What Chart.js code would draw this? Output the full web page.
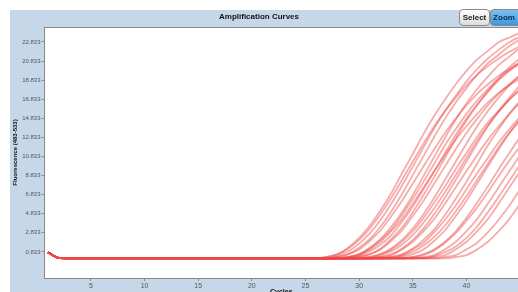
<!DOCTYPE html>
<html>
<head>
<meta charset="utf-8">
<script src="https://cdn.jsdelivr.net/npm/chart.js@4"></script>
<style>
  html, body { margin: 0; padding: 0; background: #fff; overflow: hidden; }
  #wrap { position: relative; width: 518px; height: 292px; overflow: hidden; }
  #chart { position: absolute; left: 0; top: 0; }
  .btn {
    position: absolute; top: 9px; height: 17px;
    font: bold 8px "Liberation Sans", Arial, sans-serif; line-height: 15px; text-align: center;
    border: 1px solid #8a8a8a; border-radius: 4px; box-sizing: border-box;
  }
  #selectBtn { left: 459px; width: 31px; background: linear-gradient(#ffffff, #dcdcdc); color: #222; }
  #zoomBtn { left: 490px; width: 34px; padding-right: 6px; background: linear-gradient(#7cc0f0, #3f98dc); color: #0b2b55; }
</style>
</head>
<body>
<div id="wrap">
  <canvas id="chart" width="518" height="296"></canvas>
  <div class="btn" id="selectBtn">Select</div>
  <div class="btn" id="zoomBtn">Zoom</div>
</div>
<script>
const cycles = [1,2,3,4,5,6,7,8,9,10,11,12,13,14,15,16,17,18,19,20,21,22,23,24,25,26,27,28,29,30,31,32,33,34,35,36,37,38,39,40,41,42,43,44,45];
const xTicks = [5,10,15,20,25,30,35,40];
const yTicks = [0.833,2.833,4.833,6.833,8.833,10.833,12.833,14.833,16.833,18.833,20.833,22.833];

// shared flat part, cycles 1-26
const baseline = [0.78,0.2,0.15,0.15,0.16,0.15,0.15,0.16,0.15,0.15,0.15,0.16,0.15,0.15,0.15,0.15,0.16,0.15,0.15,0.15,0.16,0.15,0.15,0.15,0.16,0.15];

// each well, cycles 27-45
const rises = [
  [0.3,0.6,1.3,2.3,3.6,5.2,7.0,9.1,11.1,13.2,15.1,16.8,18.4,19.8,21.0,21.9,22.8,23.3,23.8],
  [0.3,0.6,1.2,2.1,3.3,4.8,6.5,8.4,10.3,12.2,14.0,15.6,17.0,18.3,19.4,20.3,21.1,21.8,22.4],
  [0.2,0.45,0.9,1.7,2.8,4.2,5.9,7.8,9.8,11.8,13.8,15.6,17.2,18.7,20.0,21.1,22.0,22.8,23.4],
  [0.15,0.3,0.6,1.3,2.2,3.5,5.1,6.9,8.9,10.9,12.9,14.8,16.5,18.0,19.4,20.6,21.5,22.4,23.1],
  [0.15,0.3,0.6,1.1,2.0,3.1,4.6,6.2,8.0,9.8,11.6,13.3,14.8,16.2,17.4,18.4,19.3,20.0,20.7],
  [0.15,0.15,0.3,0.6,1.3,2.2,3.5,5.0,6.8,8.8,10.8,12.8,14.7,16.4,17.9,19.2,20.4,21.3,22.2],
  [0.15,0.15,0.3,0.6,1.2,2.1,3.2,4.7,6.4,8.2,10.1,12.0,13.7,15.3,16.7,17.9,19.0,19.9,20.7],
  [0.15,0.15,0.3,0.5,1.1,1.9,3.0,4.3,5.9,7.6,9.3,11.0,12.6,14.0,15.3,16.5,17.5,18.3,19.0],
  [0.15,0.2,0.2,0.45,0.9,1.6,2.6,4.0,5.6,7.4,9.3,11.2,13.1,14.8,16.3,17.6,18.8,19.8,20.6],
  [0.15,0.15,0.15,0.3,0.6,1.2,2.2,3.4,5.0,6.8,8.7,10.7,12.7,14.6,16.2,17.7,19.0,20.2,21.1],
  [0.15,0.15,0.15,0.3,0.6,1.1,2.0,3.1,4.6,6.2,8.0,9.8,11.6,13.3,14.8,16.2,17.4,18.4,19.3],
  [0.15,0.15,0.15,0.15,0.3,0.6,1.2,2.1,3.3,4.8,6.5,8.4,10.3,12.2,14.0,15.6,17.0,18.3,19.4],
  [0.15,0.15,0.15,0.15,0.3,0.6,1.1,1.9,3.0,4.4,6.0,7.7,9.5,11.2,12.9,14.4,15.6,16.8,17.8],
  [0.15,0.15,0.15,0.15,0.2,0.45,0.9,1.6,2.6,3.9,5.4,7.1,8.9,10.7,12.5,14.1,15.5,16.8,17.9],
  [0.15,0.15,0.15,0.15,0.15,0.3,0.6,1.2,2.1,3.3,4.8,6.5,8.4,10.3,12.2,14.0,15.6,17.0,18.3],
  [0.15,0.15,0.15,0.15,0.15,0.3,0.5,1.1,1.9,3.0,4.3,5.9,7.6,9.3,11.0,12.6,14.0,15.3,16.5],
  [0.15,0.15,0.15,0.15,0.15,0.15,0.3,0.6,1.2,2.1,3.2,4.7,6.4,8.2,10.1,12.0,13.7,15.3,16.7],
  [0.15,0.15,0.15,0.15,0.15,0.15,0.3,0.5,1.1,1.8,2.9,4.2,5.7,7.4,9.1,10.7,12.3,13.7,15.0],
  [0.15,0.15,0.15,0.15,0.15,0.15,0.2,0.45,0.85,1.5,2.4,3.6,5.1,6.7,8.4,10.1,11.8,13.3,14.6],
  [0.15,0.15,0.15,0.15,0.15,0.15,0.15,0.3,0.6,1.1,2.0,3.1,4.6,6.2,8.0,9.8,11.6,13.3,14.8],
  [0.15,0.15,0.15,0.15,0.15,0.15,0.15,0.15,0.3,0.6,1.1,1.9,3.0,4.4,6.0,7.7,9.5,11.2,12.9],
  [0.15,0.15,0.15,0.15,0.15,0.15,0.15,0.15,0.3,0.5,1.0,1.8,2.8,4.1,5.5,7.1,8.8,10.4,11.9],
  [0.15,0.15,0.15,0.15,0.15,0.15,0.15,0.15,0.15,0.3,0.5,1.1,1.9,3.0,4.3,5.9,7.6,9.3,11.0],
  [0.15,0.15,0.15,0.15,0.15,0.15,0.15,0.15,0.15,0.2,0.4,0.8,1.4,2.3,3.5,5.0,6.6,8.3,10.0],
  [0.15,0.15,0.15,0.15,0.15,0.15,0.15,0.15,0.15,0.15,0.3,0.5,1.1,1.9,3.0,4.3,5.9,7.6,9.3],
  [0.15,0.15,0.15,0.15,0.15,0.15,0.15,0.15,0.15,0.15,0.15,0.3,0.5,1.1,1.8,2.9,4.2,5.7,7.4],
  [0.15,0.15,0.15,0.15,0.15,0.15,0.15,0.15,0.15,0.15,0.15,0.15,0.3,0.5,1.1,1.9,3.0,4.3,5.9]
];

const datasets = rises.map(r => ({
    data: cycles.map((c, i) => ({x: c, y: i < baseline.length ? baseline[i] : r[i - baseline.length]})),
    borderColor: "rgba(238,70,70,0.45)",
    borderWidth: 1.8,
    pointRadius: 0,
    cubicInterpolationMode: "monotone",
    fill: false
}));

// blue frame + white plot area + top border line
const frame = {
    id: "frame",
    beforeDraw(chart) {
        const ctx = chart.ctx, a = chart.chartArea;
        ctx.save();
        ctx.fillStyle = "#ffffff";
        ctx.fillRect(0, 0, chart.width, chart.height);
        ctx.fillStyle = "#c6d7e9";
        ctx.fillRect(10, 10, chart.width - 10, chart.height - 10);
        ctx.fillStyle = "#ffffff";
        ctx.fillRect(a.left, a.top, a.right - a.left, a.bottom - a.top);
        ctx.strokeStyle = "#8c8c8c";
        ctx.lineWidth = 1;
        ctx.beginPath();
        ctx.moveTo(a.left, a.top + 0.5);
        ctx.lineTo(a.right, a.top + 0.5);
        ctx.stroke();
        ctx.restore();
    }
};

const font = "'Liberation Sans', Arial, sans-serif";

new Chart(document.getElementById("chart"), {
    type: "line",
    data: {datasets: datasets},
    plugins: [frame],
    options: {
        responsive: false,
        animation: false,
        devicePixelRatio: 1,
        layout: {padding: 0},
        plugins: {
            legend: {display: false},
            tooltip: {enabled: false},
            title: {
                display: true,
                text: "Amplification Curves",
                color: "#111",
                font: {family: font, size: 8, weight: "bold"},
                padding: {top: 12, bottom: 5.4}
            }
        },
        scales: {
            x: {
                type: "linear",
                min: 0.68,
                max: 44.8,
                afterBuildTicks: s => { s.ticks = xTicks.map(v => ({value: v})); },
                afterFit: s => { s.height = 18; },
                ticks: {color: "#555", font: {family: font, size: 7}, padding: 1, maxRotation: 0},
                grid: {drawOnChartArea: false, tickLength: 3, color: "#888"},
                border: {color: "#888"},
                title: {display: true, text: "Cycles", color: "#111", font: {family: font, size: 7, weight: "bold"}, padding: {top: 0, bottom: 0}}
            },
            y: {
                min: -1.9,
                max: 24.4,
                afterBuildTicks: s => { s.ticks = yTicks.map(v => ({value: v})); },
                afterFit: s => { s.width = 44.5; },
                ticks: {color: "#555", font: {family: font, size: 6}, padding: 1, callback: v => v.toFixed(3)},
                grid: {drawOnChartArea: false, tickLength: 3, color: "#888"},
                border: {color: "#888"},
                title: {display: true, text: "Fluorescence (483-533)", color: "#111", font: {family: font, size: 6, weight: "bold"}, padding: {top: 12, bottom: 0}}
            }
        }
    }
});
</script>
</body>
</html>
